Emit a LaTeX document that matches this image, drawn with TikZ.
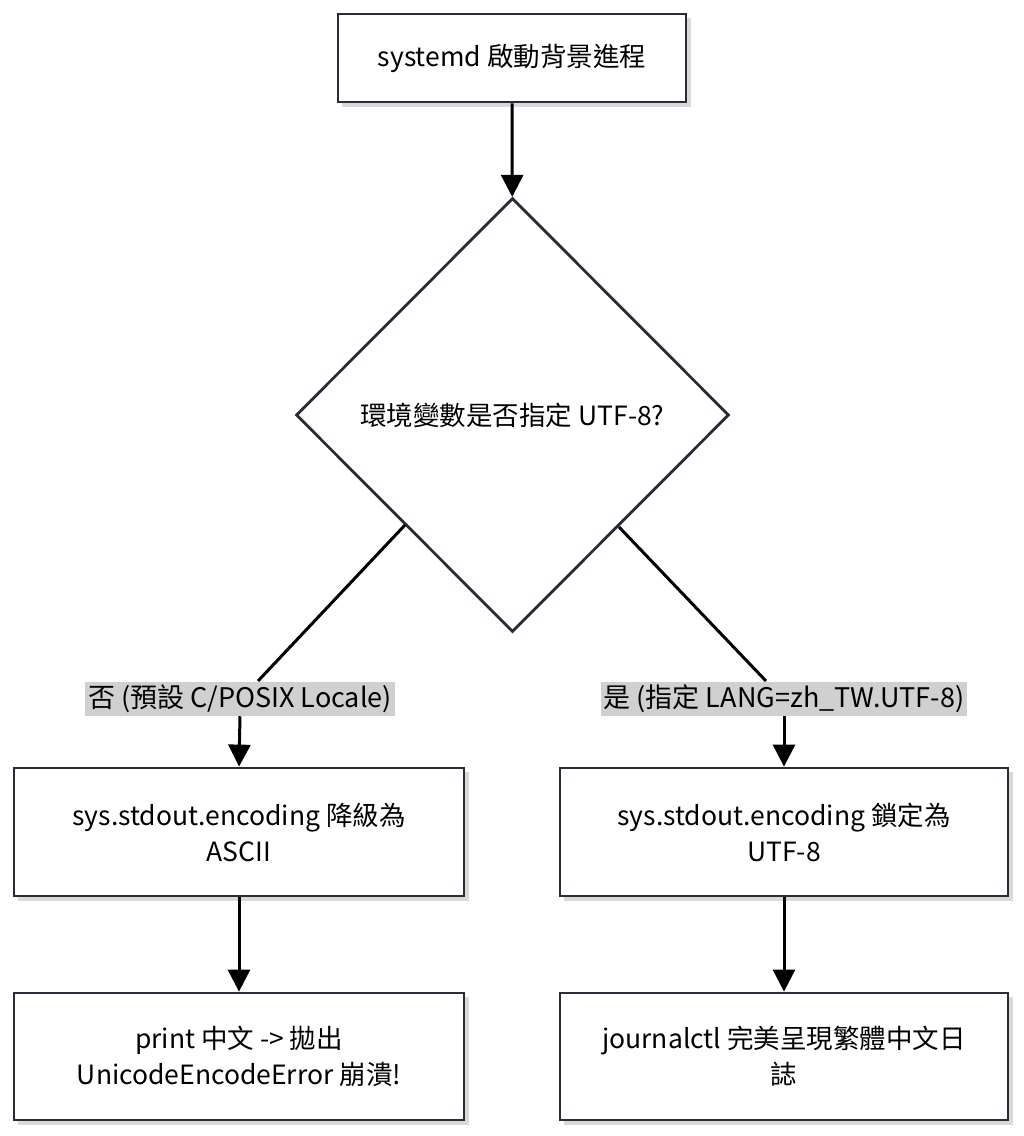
\documentclass[tikz,border=0pt]{standalone}
\usepackage{fontspec}
\setmainfont{Noto Sans CJK TC}
\usetikzlibrary{shapes.geometric,arrows.meta}
\definecolor{edge}{HTML}{2A2A3A}
\definecolor{lab}{HTML}{D0D0D0}
\tikzset{x=1pt,y=-1pt,
 box/.style={draw=edge,line width=2.8pt,fill=white,align=center,font=\fontsize{26.5}{36}\selectfont,inner sep=0pt},
 sh/.style={fill=black!15,draw=none},
 arr/.style={line width=3pt,black,-{Triangle[width=22pt,length=22pt]}},
 ln/.style={line width=3pt,black},
 lbl/.style={fill=lab,inner sep=3pt,font=\fontsize{27}{30}\selectfont}}
\begin{document}
\begin{tikzpicture}
\useasboundingbox (0,0) rectangle (1024,1136);
% shadows
\fill[sh] (342,18) rectangle (691,107);
\fill[sh] (18,772) rectangle (469,901);
\fill[sh] (564,772) rectangle (1013,901);
\fill[sh] (18,997) rectangle (469,1125);
\fill[sh] (564,997) rectangle (1013,1125);
\node[box,minimum width=348pt,minimum height=88pt] (a) at (512,58) {systemd 啟動背景進程};
\node[box,diamond,aspect=1,minimum width=433pt,minimum height=434pt] (d) at (512.5,415) {環境變數是否指定 UTF-8?};
\node[box,minimum width=450pt,minimum height=128pt] (l1) at (239,832) {sys.stdout.encoding 降級為\\ASCII};
\node[box,minimum width=448pt,minimum height=128pt] (r1) at (784,832) {sys.stdout.encoding 鎖定為\\UTF-8};
\node[box,minimum width=450pt,minimum height=127pt] (l2) at (239,1056.5) {print 中文 -> 拋出\\UnicodeEncodeError 崩潰!};
\node[box,minimum width=448pt,minimum height=127pt] (r2) at (784,1056.5) {journalctl 完美呈現繁體中文日\\誌};
\node[lbl] (ln) at (240,699) {否 (預設 C/POSIX Locale)};
\node[lbl] (lp) at (784,699) {是 (指定 LANG=zh\_TW.UTF-8)};
\coordinate (dl) at (405,525);
\coordinate (dr) at (619,527);
\coordinate (ll) at (258,681);
\coordinate (rr) at (766,681);
\draw[arr] (a) -- (d);
\draw[ln] (dl) -- (ll);
\draw[ln] (dr) -- (rr);
\draw[arr] (ln.south) -- (l1.north);
\draw[arr] (lp.south) -- (r1.north);
\draw[arr] (l1) -- (l2);
\draw[arr] (r1) -- (r2);
\end{tikzpicture}
\end{document}
